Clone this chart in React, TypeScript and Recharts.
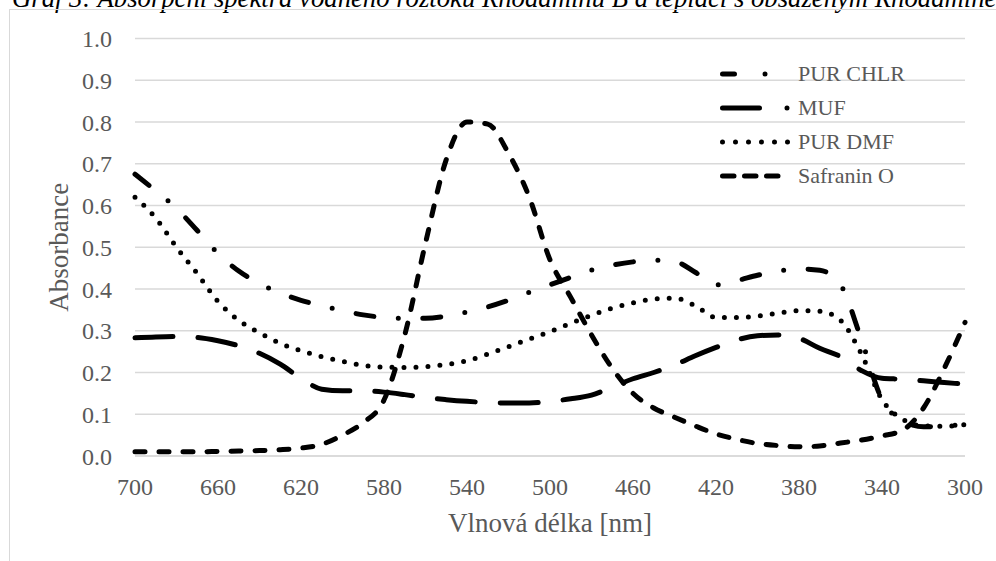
import React from "react";
import {
  LineChart,
  Line,
  XAxis,
  YAxis,
  CartesianGrid,
  Legend,
  Label,
} from "recharts";

// wavelength grid, nm (x axis runs 700 -> 300)
const WAVELENGTHS = [
  700, 690, 680, 670, 660, 650, 640, 630, 620, 610, 600, 590, 580, 570, 560,
  550, 540, 530, 520, 510, 500, 490, 480, 470, 460, 450, 440, 430, 420, 410,
  400, 390, 380, 370, 360, 350, 340, 330, 320, 310, 300,
];

const PUR_CHLR = [
  0.675, 0.635, 0.593, 0.54, 0.485, 0.443, 0.413, 0.39, 0.373, 0.36, 0.348,
  0.338, 0.332, 0.33, 0.33, 0.335, 0.345, 0.357, 0.373, 0.392, 0.41, 0.428,
  0.445, 0.457, 0.465, 0.469, 0.466, 0.44, 0.41, 0.42, 0.433, 0.443, 0.448,
  0.445, 0.41, 0.28, 0.135, 0.085, 0.07, 0.072, 0.075,
];

const MUF = [
  0.283, 0.285, 0.286, 0.284, 0.276, 0.264, 0.246, 0.22, 0.186, 0.16, 0.156,
  0.156, 0.153, 0.147, 0.14, 0.135, 0.131, 0.128, 0.127, 0.127, 0.131, 0.137,
  0.146, 0.165, 0.185, 0.2, 0.218, 0.24, 0.26, 0.278, 0.288, 0.29, 0.282,
  0.258, 0.238, 0.205, 0.186, 0.184, 0.18, 0.176, 0.172,
];

const PUR_DMF = [
  0.62, 0.57, 0.5, 0.437, 0.37, 0.325, 0.295, 0.27, 0.252, 0.238, 0.227,
  0.217, 0.213, 0.212, 0.214, 0.219, 0.228, 0.244, 0.262, 0.28, 0.298, 0.318,
  0.337, 0.354, 0.367, 0.376, 0.378, 0.36, 0.332, 0.332, 0.335, 0.342, 0.348,
  0.347, 0.325, 0.245, 0.135, 0.088, 0.072, 0.071, 0.075,
];

const SAFRANIN_O = [
  0.01, 0.01, 0.01, 0.01, 0.011, 0.012, 0.013, 0.015, 0.019, 0.028, 0.05,
  0.08, 0.134, 0.29, 0.51, 0.71, 0.8, 0.795, 0.725, 0.62, 0.47, 0.38, 0.29,
  0.21, 0.15, 0.115, 0.093, 0.072, 0.053, 0.04, 0.03, 0.025, 0.022, 0.024,
  0.031, 0.038, 0.048, 0.062, 0.115, 0.21, 0.32,
];

const X_TICKS = [700, 660, 620, 580, 540, 500, 460, 420, 380, 340, 300];
const Y_TICKS = [0, 0.1, 0.2, 0.3, 0.4, 0.5, 0.6, 0.7, 0.8, 0.9, 1.0];

const TITLE =
  "Graf 3: Absorpční spektra vodného roztoku Rhodaminu B a teplácí s obsaženým Rhodaminem";

const data = WAVELENGTHS.map((wl, i) => ({
  wl,
  chlr: PUR_CHLR[i],
  muf: MUF[i],
  dmf: PUR_DMF[i],
  saf: SAFRANIN_O[i],
}));

const FONT = "'Liberation Serif', 'Times New Roman', serif";
const TEXT_GREY = "#595959";
const GRID_GREY = "#d9d9d9";
const W = 5;

// chart line styles vs. the little legend samples (these look different in the source)
const SERIES = [
  { key: "chlr", name: "PUR CHLR", dash: "18 24.5 0 24.5", legendDash: "12 30.5 0 23 0 1000" },
  { key: "muf", name: "MUF", dash: "38 25", legendDash: "37 27.5 0 1000" },
  { key: "dmf", name: "PUR DMF", dash: "0 12", legendDash: "0 13" },
  { key: "saf", name: "Safranin O", dash: "10 14", legendDash: "11.5 10.5" },
];

function renderLegend() {
  return (
    <div>
      {SERIES.map((s) => (
        <div
          key={s.key}
          style={{ display: "flex", alignItems: "center", height: 34 }}
        >
          <svg width={78} height={20}>
            <line
              x1={2.5}
              y1={10}
              x2={68}
              y2={10}
              stroke="#000"
              strokeWidth={W}
              strokeLinecap="round"
              strokeDasharray={s.legendDash}
            />
          </svg>
          <span
            style={{
              fontFamily: FONT,
              fontSize: 22,
              color: TEXT_GREY,
              whiteSpace: "nowrap",
            }}
          >
            {s.name}
          </span>
        </div>
      ))}
    </div>
  );
}

export default function App() {
  return (
    <div
      style={{
        position: "absolute",
        left: 0,
        top: 0,
        width: 996,
        height: 561,
        overflow: "hidden",
        background: "#fff",
      }}
    >
      <div
        style={{
          position: "absolute",
          left: 12,
          top: -14.9,
          fontFamily: FONT,
          fontStyle: "italic",
          fontSize: 26.7,
          lineHeight: "26.7px",
          whiteSpace: "nowrap",
          color: "#000",
        }}
      >
        {TITLE}
      </div>
      <div
        style={{
          position: "absolute",
          left: 9,
          top: 9,
          width: 1000,
          height: 600,
          border: `1.5px solid ${GRID_GREY}`,
        }}
      />
      <div style={{ position: "absolute", left: 0, top: 0 }}>
        <LineChart
          width={996}
          height={561}
          data={data}
          margin={{ top: 38.5, right: 31, left: 0, bottom: 0 }}
        >
          <CartesianGrid
            vertical={false}
            stroke={GRID_GREY}
            strokeWidth={1.3}
          />
          <XAxis
            dataKey="wl"
            type="number"
            domain={[300, 700]}
            reversed
            ticks={X_TICKS}
            interval={0}
            height={105}
            tickLine={false}
            tickSize={0}
            tickMargin={22}
            axisLine={{ stroke: GRID_GREY, strokeWidth: 1.3 }}
            tick={{ fill: TEXT_GREY, fontSize: 24, fontFamily: FONT }}
          >
            <Label
              content={({ viewBox }: any) => (
                <text
                  x={viewBox.x + viewBox.width / 2}
                  y={viewBox.y + 67}
                  textAnchor="middle"
                  dominantBaseline="central"
                  fill={TEXT_GREY}
                  fontSize={27}
                  fontFamily={FONT}
                >
                  Vlnová délka [nm]
                </text>
              )}
            />
          </XAxis>
          <YAxis
            type="number"
            domain={[0, 1]}
            ticks={Y_TICKS}
            interval={0}
            width={135}
            tickLine={false}
            axisLine={false}
            tickSize={0}
            tickMargin={23}
            tickFormatter={(v: number) => v.toFixed(1)}
            tick={{ fill: TEXT_GREY, fontSize: 24, fontFamily: FONT }}
          >
            <Label
              content={({ viewBox }: any) => {
                const cx = viewBox.x + 59;
                const cy = viewBox.y + viewBox.height / 2;
                return (
                  <text
                    x={cx}
                    y={cy}
                    transform={`rotate(-90 ${cx} ${cy})`}
                    textAnchor="middle"
                    dominantBaseline="central"
                    fill={TEXT_GREY}
                    fontSize={27}
                    fontFamily={FONT}
                  >
                    Absorbance
                  </text>
                );
              }}
            />
          </YAxis>
          <Legend
            layout="vertical"
            align="center"
            verticalAlign="middle"
            content={renderLegend}
            wrapperStyle={{ position: "absolute", left: 720, top: 57, width: 230 }}
          />
          {SERIES.map((s) => (
            <Line
              key={s.key}
              type="monotone"
              dataKey={s.key}
              name={s.name}
              stroke="#000"
              strokeWidth={W}
              strokeDasharray={s.dash}
              strokeLinecap="round"
              strokeLinejoin="round"
              dot={false}
              activeDot={false}
              isAnimationActive={false}
            />
          ))}
        </LineChart>
      </div>
    </div>
  );
}
